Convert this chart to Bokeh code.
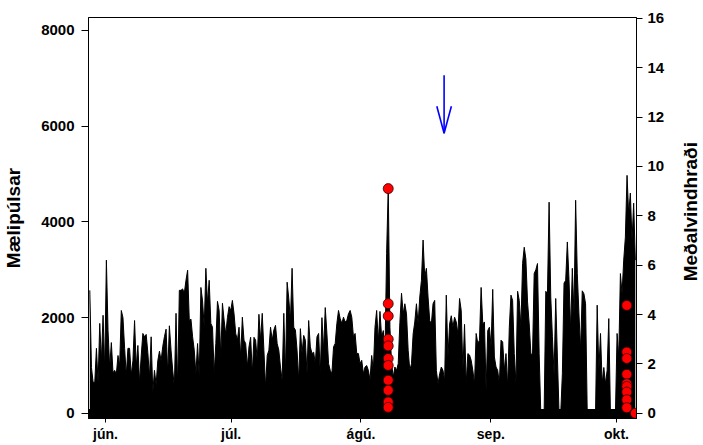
import math
import numpy as np
from bokeh.plotting import figure
from bokeh.layouts import row
from bokeh.models import Range1d, LinearAxis, FixedTicker, ColumnDataSource
from bokeh.core.properties import value
from bokeh.embed import file_html
from bokeh.resources import INLINE

# ---- axis ticks / labels ----
month_ticks = [0, 30, 61, 92, 122]          # days since 1 June
month_labels = ["jún.", "júl.", "ágú.", "sep.", "okt."]
pulse_ticks = [0, 2000, 4000, 6000, 8000]
wind_ticks = [0, 2, 4, 6, 8, 10, 12, 14, 16]
left_title = "Mælipúlsar"
right_title = "Meðalvindhraði"

# ---- black series: pulses, one value every 9.5 h from 28 May ----
start_day = -3.74
step_hours = 9.5
pulses_a = [2570, 960, 650, 650, 1360, 640, 1880, 1100, 2050, 900, 3200, 1730, 960, 1480, 850,
            900, 820, 1210, 1000, 2150, 2000, 1360, 800, 1360, 1360, 800, 1100, 1940, 970, 1420,
            640, 1200, 1670, 1600, 1650, 1270, 760, 1600, 440, 900, 600, 1100, 1300, 1100, 1400,
            1600, 1760, 830, 1830, 1320, 900, 550, 2090, 550, 2570]
pulses_b = [2570, 2600, 2510, 2780, 2990, 1940, 1970, 1600, 1320, 830, 1460, 760, 2630, 2350, 1800,
            3030, 2300, 2780, 1880, 1800, 830, 1460, 2340, 2150, 1180, 2300, 1950, 1650, 2000, 2230,
            2150, 2360, 2080, 1670, 1530, 1800, 1180, 2010, 1530, 1460, 970, 1390, 1590, 830, 1590,
            1530, 1110, 2070, 1530, 2090, 1320, 550, 1210, 1320, 1800, 1530]
pulses_c = [1740, 1840, 1460, 1320, 970, 690, 2090, 830, 2740, 2400, 1940, 3030, 1800, 1740, 1320,
            690, 1770, 1250, 1630, 1530, 830, 1940, 1390, 1250, 1280, 1040, 1600, 1670, 830, 2000,
            1320, 2210, 1670, 1040, 900, 830, 1390, 1460, 1880, 2150, 1980, 1880, 2010, 1910, 1940,
            2080, 2150, 2010, 1600, 1670, 1250, 1250, 1040, 1110, 830, 970]
pulses_d = [1000, 900, 700, 1210, 900, 1800, 2150, 1500, 2130, 1590, 1730, 1180, 3340, 4720, 1800,
            1040, 760, 970, 900, 1040, 1900, 2510, 2080, 2290, 2080, 1320, 900, 1040, 1660, 1910,
            2290, 1870, 2430, 2780, 3620, 2850, 3030, 2430, 1940, 1870, 2290, 2360, 900, 620, 830,
            970, 900, 690, 2470, 1180, 1870, 2040, 1800, 2010, 1910, 1660]
pulses_e = [2400, 2150, 900, 1860, 620, 1250, 1220, 1110, 900, 620, 1670, 1460, 1530, 2630, 1870,
            1910, 480, 1730, 1800, 1390, 2590, 1180, 970, 900, 620, 1530, 1490, 900, 1250, 550,
            1800, 2470, 2360, 1250, 620, 2550, 2360, 1800, 3130, 3470, 3220, 2330, 1870, 1250, 1220,
            2920, 3000, 3130, 1250, 0, 0, 0, 2550, 2500, 4410, 2430]
pulses_f = [1600, 800, 2400, 1180, 0, 0, 830, 2720, 2780, 3580, 2800, 1730, 3030, 2080, 4450,
            2920, 2080, 1320, 2560, 2500, 2290, 0, 0, 0, 0, 0, 0, 2260, 900, 1670,
            620, 960, 620, 900, 1980, 0, 0, 0, 0, 1670, 1180, 2920, 2500, 3200, 3680,
            4970, 4160, 4600, 3600, 4390, 3200]
pulses = pulses_a + pulses_b + pulses_c + pulses_d + pulses_e + pulses_f

# ---- red points: mean wind speed (right axis) ----
wind_day = [67.5] * 11 + [124.45] * 9 + [126.5]
wind_speed = [9.10, 4.44, 3.94, 3.00, 2.73, 2.22, 1.94, 1.34, 0.93, 0.46, 0.24,
              4.37, 2.48, 2.22, 1.58, 1.20, 1.09, 0.86, 0.55, 0.23,
              0.0]

# ---- blue arrow ----
arrow_day = 80.84
arrow_top = 7060
arrow_tip = 5850

# ---- ranges ----
x_lo, x_hi = -4.05, 126.77
y_lo, y_hi = -105, 8265
w_lo, w_hi = -0.21, 16.03

W, H = 680, 445
W_TITLE = 20
BL, BR, BT, BB = 87, 44, 17, 27
frame_w = W - BL - BR
frame_h = H - BT - BB

t = start_day + np.arange(len(pulses)) * step_hours / 24.0
src = ColumnDataSource(dict(t=t, v=pulses, z=np.zeros(len(pulses))))

p = figure(width=W, height=H, output_backend="svg", toolbar_location=None,
           x_range=Range1d(x_lo, x_hi), y_range=Range1d(y_lo, y_hi),
           min_border_left=BL, min_border_right=BR, min_border_top=BT, min_border_bottom=BB)
p.extra_y_ranges = {"wind": Range1d(w_lo, w_hi)}
p.grid.visible = False
p.outline_line_color = "black"
p.outline_line_width = 1
p.background_fill_color = "white"
p.border_fill_color = "white"

FONT = "Liberation Sans"
TITLE_SIZE = "19px"

def style_axis(ax, tick_out, standoff, size):
    ax.minor_tick_line_color = None
    ax.major_tick_in = 0
    ax.major_tick_out = tick_out
    ax.major_tick_line_color = "black"
    ax.axis_line_color = "black"
    ax.major_label_standoff = standoff
    ax.major_label_text_font = FONT
    ax.major_label_text_font_style = "bold"
    ax.major_label_text_font_size = size
    ax.major_label_text_color = "black"
    ax.axis_label_text_font = FONT
    ax.axis_label_text_font_style = "bold"
    ax.axis_label_text_font_size = TITLE_SIZE
    ax.axis_label_text_color = "black"

# bottom axis
xa = p.xaxis[0]
xa.ticker = FixedTicker(ticks=month_ticks)
xa.major_label_overrides = {k: s for k, s in zip(month_ticks, month_labels)}
style_axis(xa, 4, 3, "14px")

# left axis
ya = p.yaxis[0]
ya.ticker = FixedTicker(ticks=pulse_ticks)
style_axis(ya, 7, 7, "15px")
ya.axis_label = left_title
ya.axis_label_standoff = 14

# right axis (its title is drawn in the narrow strip to the right)
ra = LinearAxis(y_range_name="wind", ticker=FixedTicker(ticks=wind_ticks))
style_axis(ra, 6, 5, "15px")
p.add_layout(ra, "right")

# black pulse series
p.varea(x="t", y1="z", y2="v", source=src, fill_color="black")
p.line(x="t", y="v", source=src, line_color="black", line_width=1)
# thick zero band
p.line(x=[t[0], t[-1]], y=[0, 0], line_color="black", line_width=9, line_cap="round")

# red wind points
p.scatter(x=wind_day, y=wind_speed, y_range_name="wind", size=10,
          fill_color="#ff0000", line_color="#300000", line_width=0.8)

# blue arrow (shaft + open V head)
dx_per_px = (x_hi - x_lo) / frame_w
dy_per_px = (y_hi - y_lo) / frame_h
head_dx = 7.3 * dx_per_px
head_dy = 27 * dy_per_px
p.segment(x0=[arrow_day], y0=[arrow_top], x1=[arrow_day], y1=[arrow_tip],
          line_color="#0000ff", line_width=1.6)
p.segment(x0=[arrow_day - head_dx, arrow_day + head_dx], y0=[arrow_tip + head_dy] * 2,
          x1=[arrow_day] * 2, y1=[arrow_tip] * 2, line_color="#0000ff", line_width=1.6)

# right-hand title strip: text reads bottom-to-top, centred on the plot
p2 = figure(width=W_TITLE, height=H, output_backend="svg", toolbar_location=None,
            x_range=Range1d(0, 1), y_range=Range1d(0, H), min_border=0,
            x_axis_location=None, y_axis_location=None)
p2.outline_line_color = None
p2.grid.visible = False
p2.background_fill_color = "white"
p2.border_fill_color = "white"
p2.text(x=[0.5], y=[H - (BT + frame_h / 2) + 2], text=[right_title], angle=math.pi / 2,
        text_align="center", text_baseline="middle", text_font=value(FONT),
        text_font_style="bold", text_font_size=value(TITLE_SIZE), text_color="black")

layout = row(p, p2)
open("out.html", "w").write(file_html(layout, INLINE))
